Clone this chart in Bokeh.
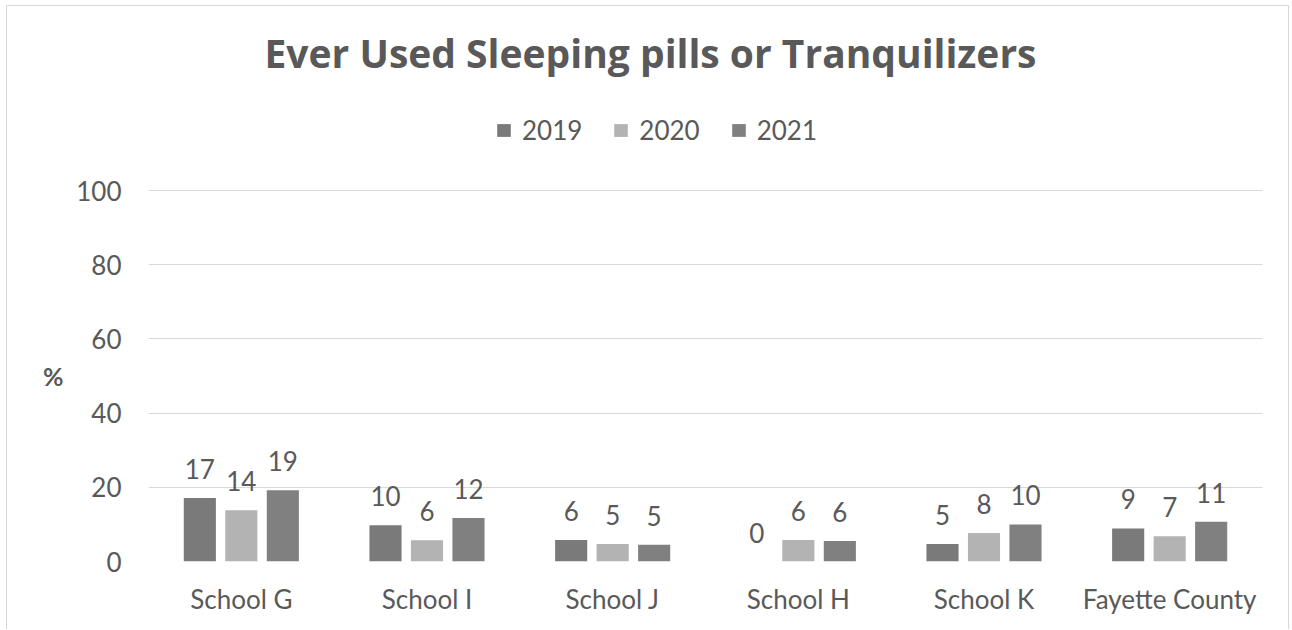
from bokeh.plotting import figure
from bokeh.models import (ColumnDataSource, Range1d, FactorRange, FixedTicker, Label,
                          LinearAxis)
from bokeh.transform import dodge
from bokeh.core.properties import value
from bokeh.embed import file_html
from bokeh.resources import INLINE

categories = ["School G", "School I", "School J", "School H", "School K", "Fayette County"]
years = ["2019", "2020", "2021"]
v2019 = [17.1, 9.8, 5.8, 0.0, 4.7, 8.9]
v2020 = [13.8, 5.7, 4.7, 5.8, 7.7, 6.8]
v2021 = [19.2, 11.7, 4.5, 5.5, 10.0, 10.7]
lab2019 = ["17", "10", "6", "0", "5", "9"]
lab2020 = ["14", "6", "5", "6", "8", "7"]
lab2021 = ["19", "12", "5", "6", "10", "11"]
y_ticks = [0, 20, 40, 60, 80, 100]
title_text = "Ever Used Sleeping pills or Tranquilizers"
y_label = "%"

colors = ["#7a7a7a", "#b3b3b3", "#808080"]
TEXT = "#595959"
FONT = "Lato"

src = ColumnDataSource(dict(cat=categories, v2019=v2019, v2020=v2020, v2021=v2021,
                            l2019=lab2019, l2020=lab2020, l2021=lab2021))

# frame spans the full height; 0..100 occupies the lower 371 px
p = figure(width=1283, height=624, x_range=FactorRange(*categories),
           y_range=Range1d(0, 149.6), output_backend="svg", toolbar_location=None,
           title_location=None, min_border_left=141, min_border_right=28,
           min_border_top=0, min_border_bottom=69)
p.outline_line_color = None
p.styles = {"margin-left": "6px", "margin-top": "5px",
            "border-top": "1px solid #d9d9d9", "border-left": "1px solid #d9d9d9",
            "border-right": "1px solid #d9d9d9"}

offsets = [-0.2235, 0.0, 0.2235]
for yr, off, col in zip(years, offsets, colors):
    p.vbar(x=dodge("cat", off, range=p.x_range), top="v" + yr, width=0.173, source=src,
           fill_color=col, line_color=None, legend_label=yr)
    p.text(x=dodge("cat", off, range=p.x_range), y="v" + yr, text="l" + yr, source=src,
           text_align="center", text_baseline="alphabetic", y_offset=-29,
           text_font=value(FONT), text_font_size="26px", text_color=TEXT)

p.yaxis.ticker = FixedTicker(ticks=y_ticks)
for ax in (p.xaxis, p.yaxis):
    ax.axis_line_color = None
    ax.major_tick_line_color = None
    ax.minor_tick_line_color = None
    ax.major_tick_in = 0
    ax.major_tick_out = 0
    ax.major_label_text_font = FONT
    ax.major_label_text_font_size = "26px"
    ax.major_label_text_color = TEXT
p.yaxis.major_label_standoff = 27
p.xaxis.major_label_standoff = 21

# "%" unit label as an outer left axis with a single tick
pct_axis = LinearAxis(ticker=FixedTicker(ticks=[50]), major_label_overrides={50: y_label},
                      axis_line_color=None, major_tick_line_color=None,
                      minor_tick_line_color=None, major_tick_in=0, major_tick_out=0,
                      major_label_standoff=10, major_label_text_font=FONT,
                      major_label_text_font_style="bold", major_label_text_font_size="25px",
                      major_label_text_color=TEXT)
p.add_layout(pct_axis, "left")

p.xgrid.grid_line_color = None
p.ygrid.grid_line_color = "#d9d9d9"
p.ygrid.grid_line_width = 1
p.ygrid.ticker = FixedTicker(ticks=y_ticks)

leg = p.legend[0]
leg.orientation = "horizontal"
leg.location = (347, 415)
leg.label_text_font = FONT
leg.label_text_font_size = "26px"
leg.label_text_color = TEXT
leg.glyph_width = 17
leg.glyph_height = 16
leg.label_standoff = 10
leg.spacing = 30
leg.padding = 0
leg.margin = 0
leg.border_line_color = None
leg.background_fill_alpha = 0

p.add_layout(Label(x=502, y=509, x_units="screen", y_units="screen", text=title_text,
                   text_align="center", text_baseline="alphabetic", text_font="Open Sans",
                   text_font_style="bold", text_font_size="39px", text_color=TEXT))

open("out.html", "w").write(file_html(p, INLINE))
